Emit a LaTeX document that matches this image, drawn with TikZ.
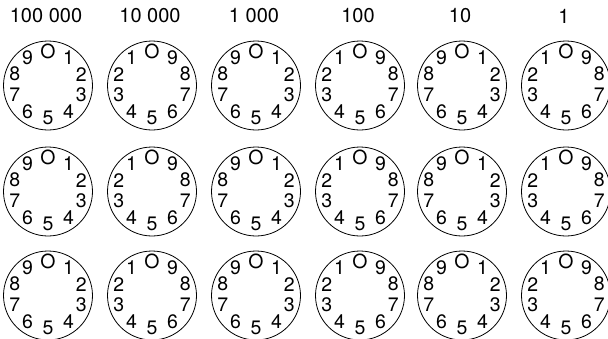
\documentclass[tikz,border=0pt]{standalone}
\usepackage{fontspec}
\setmainfont{TeX Gyre Heros}
\usetikzlibrary{positioning}

\tikzset{
  dial/.style={
    draw,
    shape = circle,
    minimum size = 89pt,
    inner sep = 0pt,
    line width = 0.8pt
  },
  digit/.style={
    font = \fontsize{19.5}{19.5}\selectfont,
    inner sep = 0pt,
    yshift = 1pt
  },
  place/.style={
    font = \fontsize{20}{20}\selectfont,
    inner sep = 0pt
  }
}

\begin{document}
\begin{tikzpicture}[x=1pt,y=-1pt]
  \useasboundingbox (0,0) rectangle (608,338);

  % place values over the columns
  \node[place] (p1) at (46,16)  {100 000};
  \node[place] (p2) at (150,16) {10 000};
  \node[place] (p3) at (254,16) {1 000};
  \node[place] (p4) at (358,16) {100};
  \node[place] (p5) at (460,16) {10};
  \node[place] (p6) at (564,16) {1};

  % dials: s=1 clockwise, s=-1 anticlockwise
  \foreach \row/\y in {1/85.5, 2/191.5, 3/295.5}{
    \foreach \col/\x/\s in {1/48/1, 2/152/-1, 3/256/1, 4/360/-1, 5/462/1, 6/566/-1}{
      \node[dial] (d\row\col) at (\x,\y) {};
      \foreach \k/\t in {0/O, 1/1, 2/2, 3/3, 4/4, 5/5, 6/6, 7/7, 8/8, 9/9}
        \path (d\row\col.center) ++(-90+\s*36*\k:35 and 33.5) node[digit] (d\row\col-\k) {\t};
    }
  }
\end{tikzpicture}
\end{document}
